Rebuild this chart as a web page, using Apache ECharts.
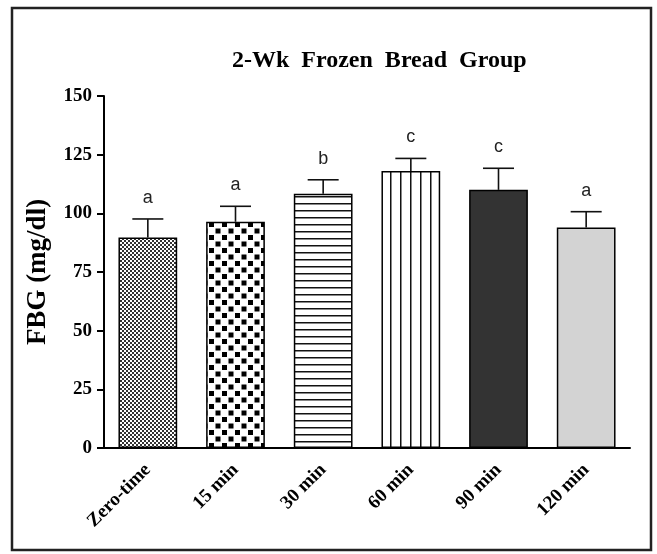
<!DOCTYPE html>
<html>
<head>
<meta charset="utf-8">
<script src="https://cdn.jsdelivr.net/npm/echarts@6/dist/echarts.min.js"></script>
<style>html,body{margin:0;padding:0;background:#fff;}#c{width:657px;height:554px;}</style>
</head>
<body>
<div id="c"></div>
<script>
const categories = ['Zero-time', '15 min', '30 min', '60 min', '90 min', '120 min'];
const means = [89.7, 96.4, 108.3, 118.0, 110.0, 94.0];
const errors = [7.9, 6.6, 6.0, 5.4, 9.2, 6.7];
const letters = ['a', 'a', 'b', 'c', 'c', 'a'];
const yTicks = [0, 25, 50, 75, 100, 125, 150];

function pattern(w, h, draw) {
  const c = document.createElement('canvas');
  c.width = w; c.height = h;
  const ctx = c.getContext('2d');
  ctx.fillStyle = '#fff';
  ctx.fillRect(0, 0, w, h);
  draw(ctx);
  return { image: c, repeat: 'repeat' };
}
const fills = [
  pattern(4, 4, ctx => { ctx.fillStyle = '#333'; ctx.fillRect(0, 0, 2, 2); ctx.fillRect(2, 2, 2, 2); }),
  pattern(13, 13, ctx => { ctx.fillStyle = '#000'; ctx.fillRect(1, 1, 5, 5); ctx.fillRect(7.5, 7.5, 5, 5); }),
  pattern(8, 7, ctx => { ctx.fillStyle = '#111'; ctx.fillRect(0, 0, 8, 1.5); }),
  pattern(10, 8, ctx => { ctx.fillStyle = '#111'; ctx.fillRect(0, 0, 1.5, 8); }),
  '#333333',
  '#d3d3d3'
];

const serif = '"Liberation Serif", "Times New Roman", serif';
const chart = echarts.init(document.getElementById('c'));
chart.setOption({
  animation: false,
  backgroundColor: '#fff',
  title: {
    text: '2-Wk  Frozen  Bread  Group',
    left: 227, top: 44,
    textStyle: { fontFamily: serif, fontWeight: 'bold', fontSize: 24, color: '#000' }
  },
  graphic: [{
    type: 'rect', shape: { x: 12, y: 8, width: 639, height: 542 },
    style: { fill: 'none', stroke: '#222', lineWidth: 2.5 }, silent: true
  }],
  grid: { left: 104, right: 27, top: 96, bottom: 106 },
  xAxis: {
    type: 'category', data: categories,
    axisLine: { lineStyle: { color: '#000', width: 2 } },
    axisTick: { alignWithLabel: true, length: 9, lineStyle: { color: '#000', width: 2 } },
    axisLabel: { rotate: 45, margin: 19, fontFamily: serif, fontWeight: 'bold', fontSize: 19, color: '#000' }
  },
  yAxis: {
    type: 'value', min: 0, max: 150, interval: 25,
    name: 'FBG (mg/dl)', nameLocation: 'middle', nameGap: 52,
    nameTextStyle: { fontFamily: serif, fontWeight: 'bold', fontSize: 27, color: '#000' },
    axisLine: { show: true, lineStyle: { color: '#000', width: 2 } },
    axisTick: { show: true, length: 7, lineStyle: { color: '#000', width: 2 } },
    axisLabel: { margin: 12, fontFamily: serif, fontWeight: 'bold', fontSize: 19, color: '#000',
      formatter: v => yTicks.includes(v) ? String(v) : '' },
    splitLine: { show: false }
  },
  series: [{
    type: 'bar', barWidth: '67%',
    data: means.map((m, i) => ({ value: m, itemStyle: { color: fills[i] } })),
    itemStyle: { borderColor: '#000', borderWidth: 1.5 }
  }, {
    type: 'custom', z: 5,
    data: means.map((m, i) => [i, m, errors[i]]),
    encode: { x: 0, y: 1 },
    renderItem: (params, api) => {
      const i = api.value(0), m = api.value(1), e = api.value(2);
      const top = api.coord([i, m + e]);
      const base = api.coord([i, m]);
      const half = 15.5;
      const st = { stroke: '#111', lineWidth: 1.6 };
      return { type: 'group', children: [
        { type: 'line', shape: { x1: top[0], y1: base[1], x2: top[0], y2: top[1] }, style: st },
        { type: 'line', shape: { x1: top[0] - half, y1: top[1], x2: top[0] + half, y2: top[1] }, style: st },
        { type: 'text', x: top[0], y: top[1] - 21,
          style: { text: letters[i], font: '18px "Liberation Sans", Arial, sans-serif', fill: '#222', align: 'center', verticalAlign: 'middle' } }
      ] };
    }
  }]
});
</script>
</body>
</html>
